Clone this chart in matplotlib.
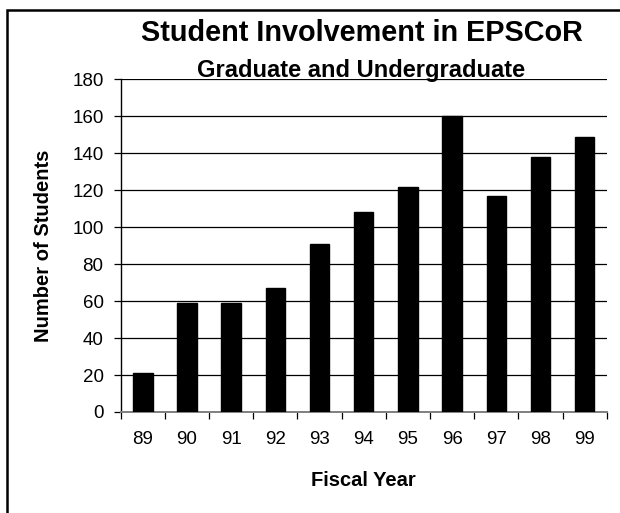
# student_involvement.py
# bar chart of EPSCoR student involvement by fiscal year

import matplotlib
matplotlib.use("Agg")
from matplotlib import pyplot as plt
from matplotlib.patches import Rectangle

fiscal_years = ["89", "90", "91", "92", "93", "94", "95", "96", "97", "98", "99"]
students = [21, 59, 59, 67, 91, 108, 122, 160, 117, 138, 149]
y_ticks = [0, 20, 40, 60, 80, 100, 120, 140, 160, 180]

plt.rcParams["font.family"] = ["Liberation Sans", "DejaVu Sans"]

fig = plt.figure(figsize=(6.2, 5.13), dpi=100)
W, H = 620, 513

# axes placed in pixel terms to follow the original layout
ax = fig.add_axes([120.7 / W, 1 - 412 / H, (606.7 - 120.7) / W, (412 - 79.3) / H])

x = list(range(len(fiscal_years)))
ax.bar(x, students, width=0.44, color="black", edgecolor="black", zorder=3)

ax.set_xlim(-0.5, len(fiscal_years) - 0.5)
ax.set_ylim(0, 180)
ax.set_yticks(y_ticks)
ax.set_yticklabels([str(v) for v in y_ticks], fontsize=13.5)
ax.yaxis.grid(True, color="black", linewidth=0.9, zorder=0)

# x ticks sit between categories, labels under each bar
ax.set_xticks([i - 0.5 for i in range(len(fiscal_years) + 1)])
ax.set_xticklabels([])
ax.set_xticks(x, minor=True)
ax.set_xticklabels(fiscal_years, minor=True, fontsize=13.5)
ax.tick_params(axis="x", which="minor", length=0, pad=14)
ax.tick_params(axis="x", which="major", length=5, width=0.9, direction="out")
ax.tick_params(axis="y", length=5.3, width=0.9, direction="out", pad=7)

for side in ["top", "right"]:
    ax.spines[side].set_visible(False)
ax.spines["left"].set_linewidth(1.0)
ax.spines["bottom"].set_color("#808080")
ax.spines["bottom"].set_linewidth(1.4)

# axis titles
fig.text(43.5 / W, 1 - 245.6 / H, "Number of Students", rotation=90, ha="center",
         va="center", fontsize=14.5, fontweight="bold")
fig.text(363 / W, 1 - 485.7 / H, "Fiscal Year", ha="center", va="baseline",
         fontsize=14.5, fontweight="bold")

fig.text(362 / W, 1 - 41 / H, "Student Involvement in EPSCoR", ha="center",
         va="baseline", fontsize=20.8, fontweight="bold")
fig.text(361 / W, 1 - 76.5 / H, "Graduate and Undergraduate", ha="center",
         va="baseline", fontsize=17, fontweight="bold")

# chart frame, only its left and top edges fall inside the picture
fig.patches.append(Rectangle((7 / W, -0.2), 1.5, 1.2 - 10 / H, transform=fig.transFigure,
                             fill=False, edgecolor="black", linewidth=1.8))

plt.savefig("out.png", dpi=100)
